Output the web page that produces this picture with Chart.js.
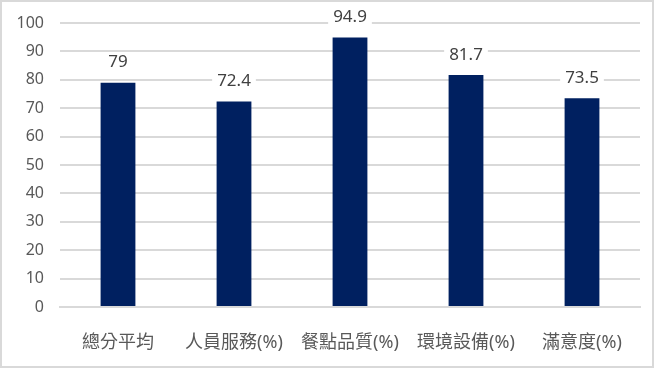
<!DOCTYPE html>
<html><head><meta charset="utf-8">
<script src="https://cdn.jsdelivr.net/npm/chart.js@4"></script>
<style>html,body{margin:0;padding:0;background:#fff}#w{width:654px;height:368px;position:relative}</style>
</head><body><div id="w"><canvas id="c" width="654" height="368"></canvas></div>
<script>
const categories = ["總分平均", "人員服務(%)", "餐點品質(%)", "環境設備(%)", "滿意度(%)"];
const values = [79, 72.4, 94.9, 81.7, 73.5];
const yTicks = [0, 10, 20, 30, 40, 50, 60, 70, 80, 90, 100];

const FONT = '"Noto Sans", "Noto Sans CJK TC", sans-serif';
const TXT = '#595959';

const borderPlugin = {
  id: 'frame',
  beforeDraw(chart) {
    const c = chart.ctx;
    c.save();
    c.fillStyle = '#fff';
    c.fillRect(0, 0, chart.width, chart.height);
    c.strokeStyle = '#d9d9d9';
    c.lineWidth = 2;
    c.strokeRect(1, 1, chart.width - 2, chart.height - 2);
    c.restore();
  }
};

const labelPlugin = {
  id: 'vals',
  afterDatasetsDraw(chart) {
    const c = chart.ctx;
    const meta = chart.getDatasetMeta(0);
    c.save();
    c.font = '17px ' + FONT;
    c.textAlign = 'center';
    c.textBaseline = 'middle';
    meta.data.forEach((bar, i) => {
      const txt = String(values[i]);
      const y = bar.y - 20;
      const w = c.measureText(txt).width + 10;
      c.fillStyle = '#fff';
      c.fillRect(bar.x - w / 2, y - 10, w, 20);
      c.fillStyle = '#404040';
      c.fillText(txt, bar.x, y);
    });
    c.restore();
  }
};

new Chart(document.getElementById('c'), {
  type: 'bar',
  data: {
    labels: categories,
    datasets: [{
      data: values,
      backgroundColor: '#002060',
      barPercentage: 0.6,
      categoryPercentage: 0.5
    }]
  },
  options: {
    responsive: false,
    animation: false,
    devicePixelRatio: 1,
    layout: { padding: { top: 23, right: 14, left: 0, bottom: 0 } },
    plugins: { legend: { display: false }, tooltip: { enabled: false } },
    scales: {
      x: {
        grid: { display: false },
        border: { color: '#d9d9d9', width: 2 },
        ticks: { color: TXT, font: { family: FONT, size: 18 }, padding: 17, maxRotation: 0, autoSkip: false },
        afterFit(s) { s.height = 61; s.paddingLeft = 0; s.paddingRight = 0; }
      },
      y: {
        min: 0, max: 100,
        afterBuildTicks(s) { s.ticks = yTicks.map(v => ({ value: v })); },
        grid: { color: '#d9d9d9', lineWidth: 2, drawTicks: false },
        border: { display: false },
        ticks: { color: TXT, font: { family: FONT, size: 16 }, padding: 16 },
        afterFit(s) { s.width = 60; s.paddingTop = 0; s.paddingBottom = 0; }
      }
    }
  },
  plugins: [borderPlugin, labelPlugin]
});
</script></body></html>
